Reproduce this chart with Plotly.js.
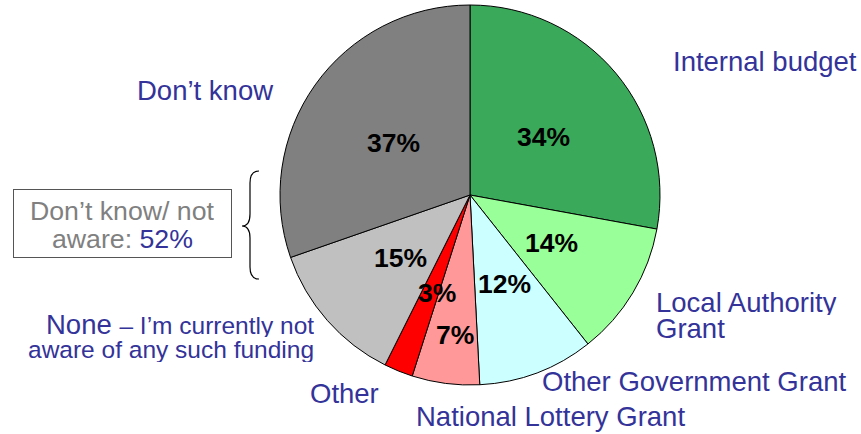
<!DOCTYPE html>
<html>
<head>
<meta charset="utf-8">
<script src="https://cdn.plot.ly/plotly-3.0.1.min.js"></script>
<style>
  html, body { margin: 0; padding: 0; background: #fff; }
  #chart { width: 861px; height: 434px; }
</style>
</head>
<body>
<div id="chart"></div>
<script>
const labels = ["Internal budget", "Local Authority Grant", "Other Government Grant",
                "National Lottery Grant", "Other",
                "None – I’m currently not aware of any such funding", "Don’t know"];
const values = [34, 14, 12, 7, 3, 15, 37];
const colors = ["#3aaa5a", "#99ff99", "#ccffff", "#ff9999", "#ff0000", "#c0c0c0", "#808080"];
const combinedValue = 52;

const W = 861, H = 434;
const blue = "#333399";
const font = "Liberation Sans, Arial, sans-serif";

const data = [
    {
        type: 'pie',
        labels: labels,
        values: values,
        textinfo: 'none',
        sort: false,
        direction: 'clockwise',
        rotation: 0,
        marker: {colors: colors, line: {color: '#000', width: 1}},
        domain: {x: [(470 - 190) / W, (470 + 190) / W], y: [49 / H, 429 / H]},
        hoverinfo: 'none',
        showlegend: false
    }
];

function ann(x, y, text, opts) {
    return Object.assign({
        xref: 'paper', yref: 'paper',
        x: x / W, y: 1 - y / H,
        xanchor: 'left', yanchor: 'middle',
        text: text, showarrow: false,
        font: {family: font, size: 27.5, color: blue}
    }, opts || {});
}

// percent labels inside the slices
const pctPos = [[543, 137], [551, 243], [505, 284], [455, 335], [437, 293], [400, 258], [393, 143]];
const annotations = values.map((v, i) => ann(pctPos[i][0], pctPos[i][1], v + '%', {
    xanchor: 'center',
    font: {family: font, size: 26.5, color: '#000', weight: 'bold'}
}));

// category labels around the pie
annotations.push(
    ann(671, 62, labels[0]),
    ann(654, 302, 'Local Authority', {height: 25}),
    ann(654, 328, 'Grant', {height: 25}),
    ann(540, 381, labels[2]),
    ann(414, 416, labels[3]),
    ann(308, 393, labels[4]),
    ann(316, 324, 'None <span style="font-size:24.5px">– I’m currently not</span>', {xanchor: 'right', height: 25}),
    ann(316, 349, 'aware of any such funding', {xanchor: 'right', height: 25, font: {family: font, size: 24.5, color: blue}}),
    ann(135, 90, labels[6])
);

// combined box
annotations.push(
    ann(13, 223, '', {
        xanchor: 'left', bordercolor: '#555', borderwidth: 1, borderpad: 0,
        width: 217, height: 67, bgcolor: 'rgba(0,0,0,0)'
    }),
    ann(122, 211, 'Don’t know/ not', {xanchor: 'center', height: 26, font: {family: font, size: 26.7, color: '#808080'}}),
    ann(122, 239, 'aware: <span style="color:' + blue + '">' + combinedValue + '%</span>',
        {xanchor: 'center', height: 26, font: {family: font, size: 26.7, color: '#808080'}})
);

// curly brace in pixel coordinates converted to paper
function px(x, y) { return (x / W) + ',' + (1 - y / H); }
const layout = {
    width: W, height: H,
    margin: {l: 0, r: 0, t: 0, b: 0},
    paper_bgcolor: '#fff',
    annotations: annotations,
    shapes: [{
        type: 'path', xref: 'paper', yref: 'paper',
        path: 'M ' + px(259, 171) + ' Q ' + px(250, 171) + ' ' + px(250, 183) +
              ' L ' + px(250, 214) + ' Q ' + px(250, 226) + ' ' + px(242, 226) +
              ' Q ' + px(250, 226) + ' ' + px(250, 238) +
              ' L ' + px(250, 267) + ' Q ' + px(250, 279) + ' ' + px(259, 279),
        line: {color: '#000', width: 1.2}
    }]
};

Plotly.newPlot("chart", data, layout, {staticPlot: true});
</script>
</body>
</html>
